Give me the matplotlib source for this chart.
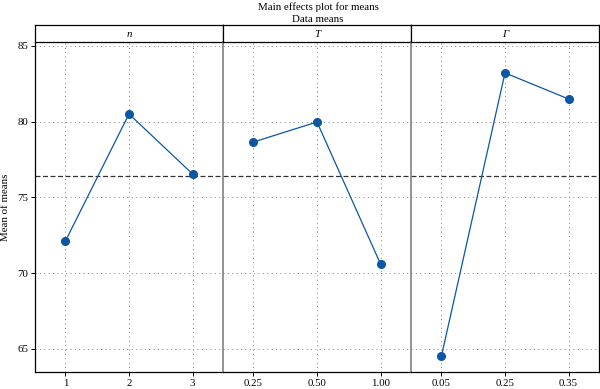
import matplotlib
matplotlib.use("Agg")
import matplotlib.pyplot as plt

plt.rcParams['font.family'] = ['Liberation Serif', 'DejaVu Serif']

factors = ["n", "T", "Γ"]
levels_n = ["1", "2", "3"]
levels_T = ["0.25", "0.50", "1.00"]
levels_G = ["0.05", "0.25", "0.35"]
means_n = [72.13, 80.51, 76.55]
means_T = [78.66, 79.98, 70.61]
means_G = [64.54, 83.22, 81.50]
grand_mean = 76.42
yticks = [65, 70, 75, 80, 85]

levels = [levels_n, levels_T, levels_G]
means = [means_n, means_T, means_G]

fig = plt.figure(figsize=(6, 3.89), dpi=100)
left, right = 35/600, 599/600
bottom, top = 17/389, 1 - 42/389
htop = 1 - 25/389
w = (right - left) / 3
col = "#0b57a4"
fs = 7.8

for i in range(3):
    ax = fig.add_axes([left + i*w, bottom, w, top - bottom])
    x = [1, 2, 3]
    ax.plot(x, means[i], color=col, lw=0.9, marker='o', ms=5.5, zorder=3)
    ax.axhline(grand_mean, color="#333333", lw=0.9, ls=(0, (4, 2)), zorder=2)
    ax.set_xlim(0.52, 3.48)
    ax.set_ylim(63.48, 85.26)
    ax.set_xticks(x)
    ax.set_xticklabels(levels[i], fontsize=fs)
    ax.set_yticks(yticks)
    ax.grid(True, color="#888888", lw=0.7, ls=(0, (1, 3.5)))
    ax.tick_params(axis='x', length=3, width=0.7, pad=2, direction='out')
    for s in ax.spines.values():
        s.set_linewidth(0.9)
    ax.spines['top'].set_visible(False)
    if i == 0:
        ax.set_yticklabels([str(v) for v in yticks], fontsize=fs)
        ax.tick_params(axis='y', length=3, width=0.7, pad=2)
        ax.set_ylabel("Mean of means", fontsize=fs, labelpad=5)
        ax.spines['right'].set_visible(False)
    else:
        ax.tick_params(axis='y', left=False, labelleft=False)
        ax.spines['left'].set_color("#777777")
        ax.spines['left'].set_linewidth(1.1)
        if i == 1:
            ax.spines['right'].set_visible(False)
    # header strip
    hx = fig.add_axes([left + i*w, top, w, htop - top])
    hx.set_xticks([]); hx.set_yticks([])
    for s in hx.spines.values():
        s.set_linewidth(0.9)
    hx.text(0.5, 0.45, factors[i], ha='center', va='center', fontsize=fs,
            style='italic', transform=hx.transAxes)

fig.text(318/600, 1 - 7/389, "Main effects plot for means", ha='center', va='center', fontsize=fs)
fig.text(318/600, 1 - 19/389, "Data means", ha='center', va='center', fontsize=fs)

fig.savefig("out.png", dpi=100)
